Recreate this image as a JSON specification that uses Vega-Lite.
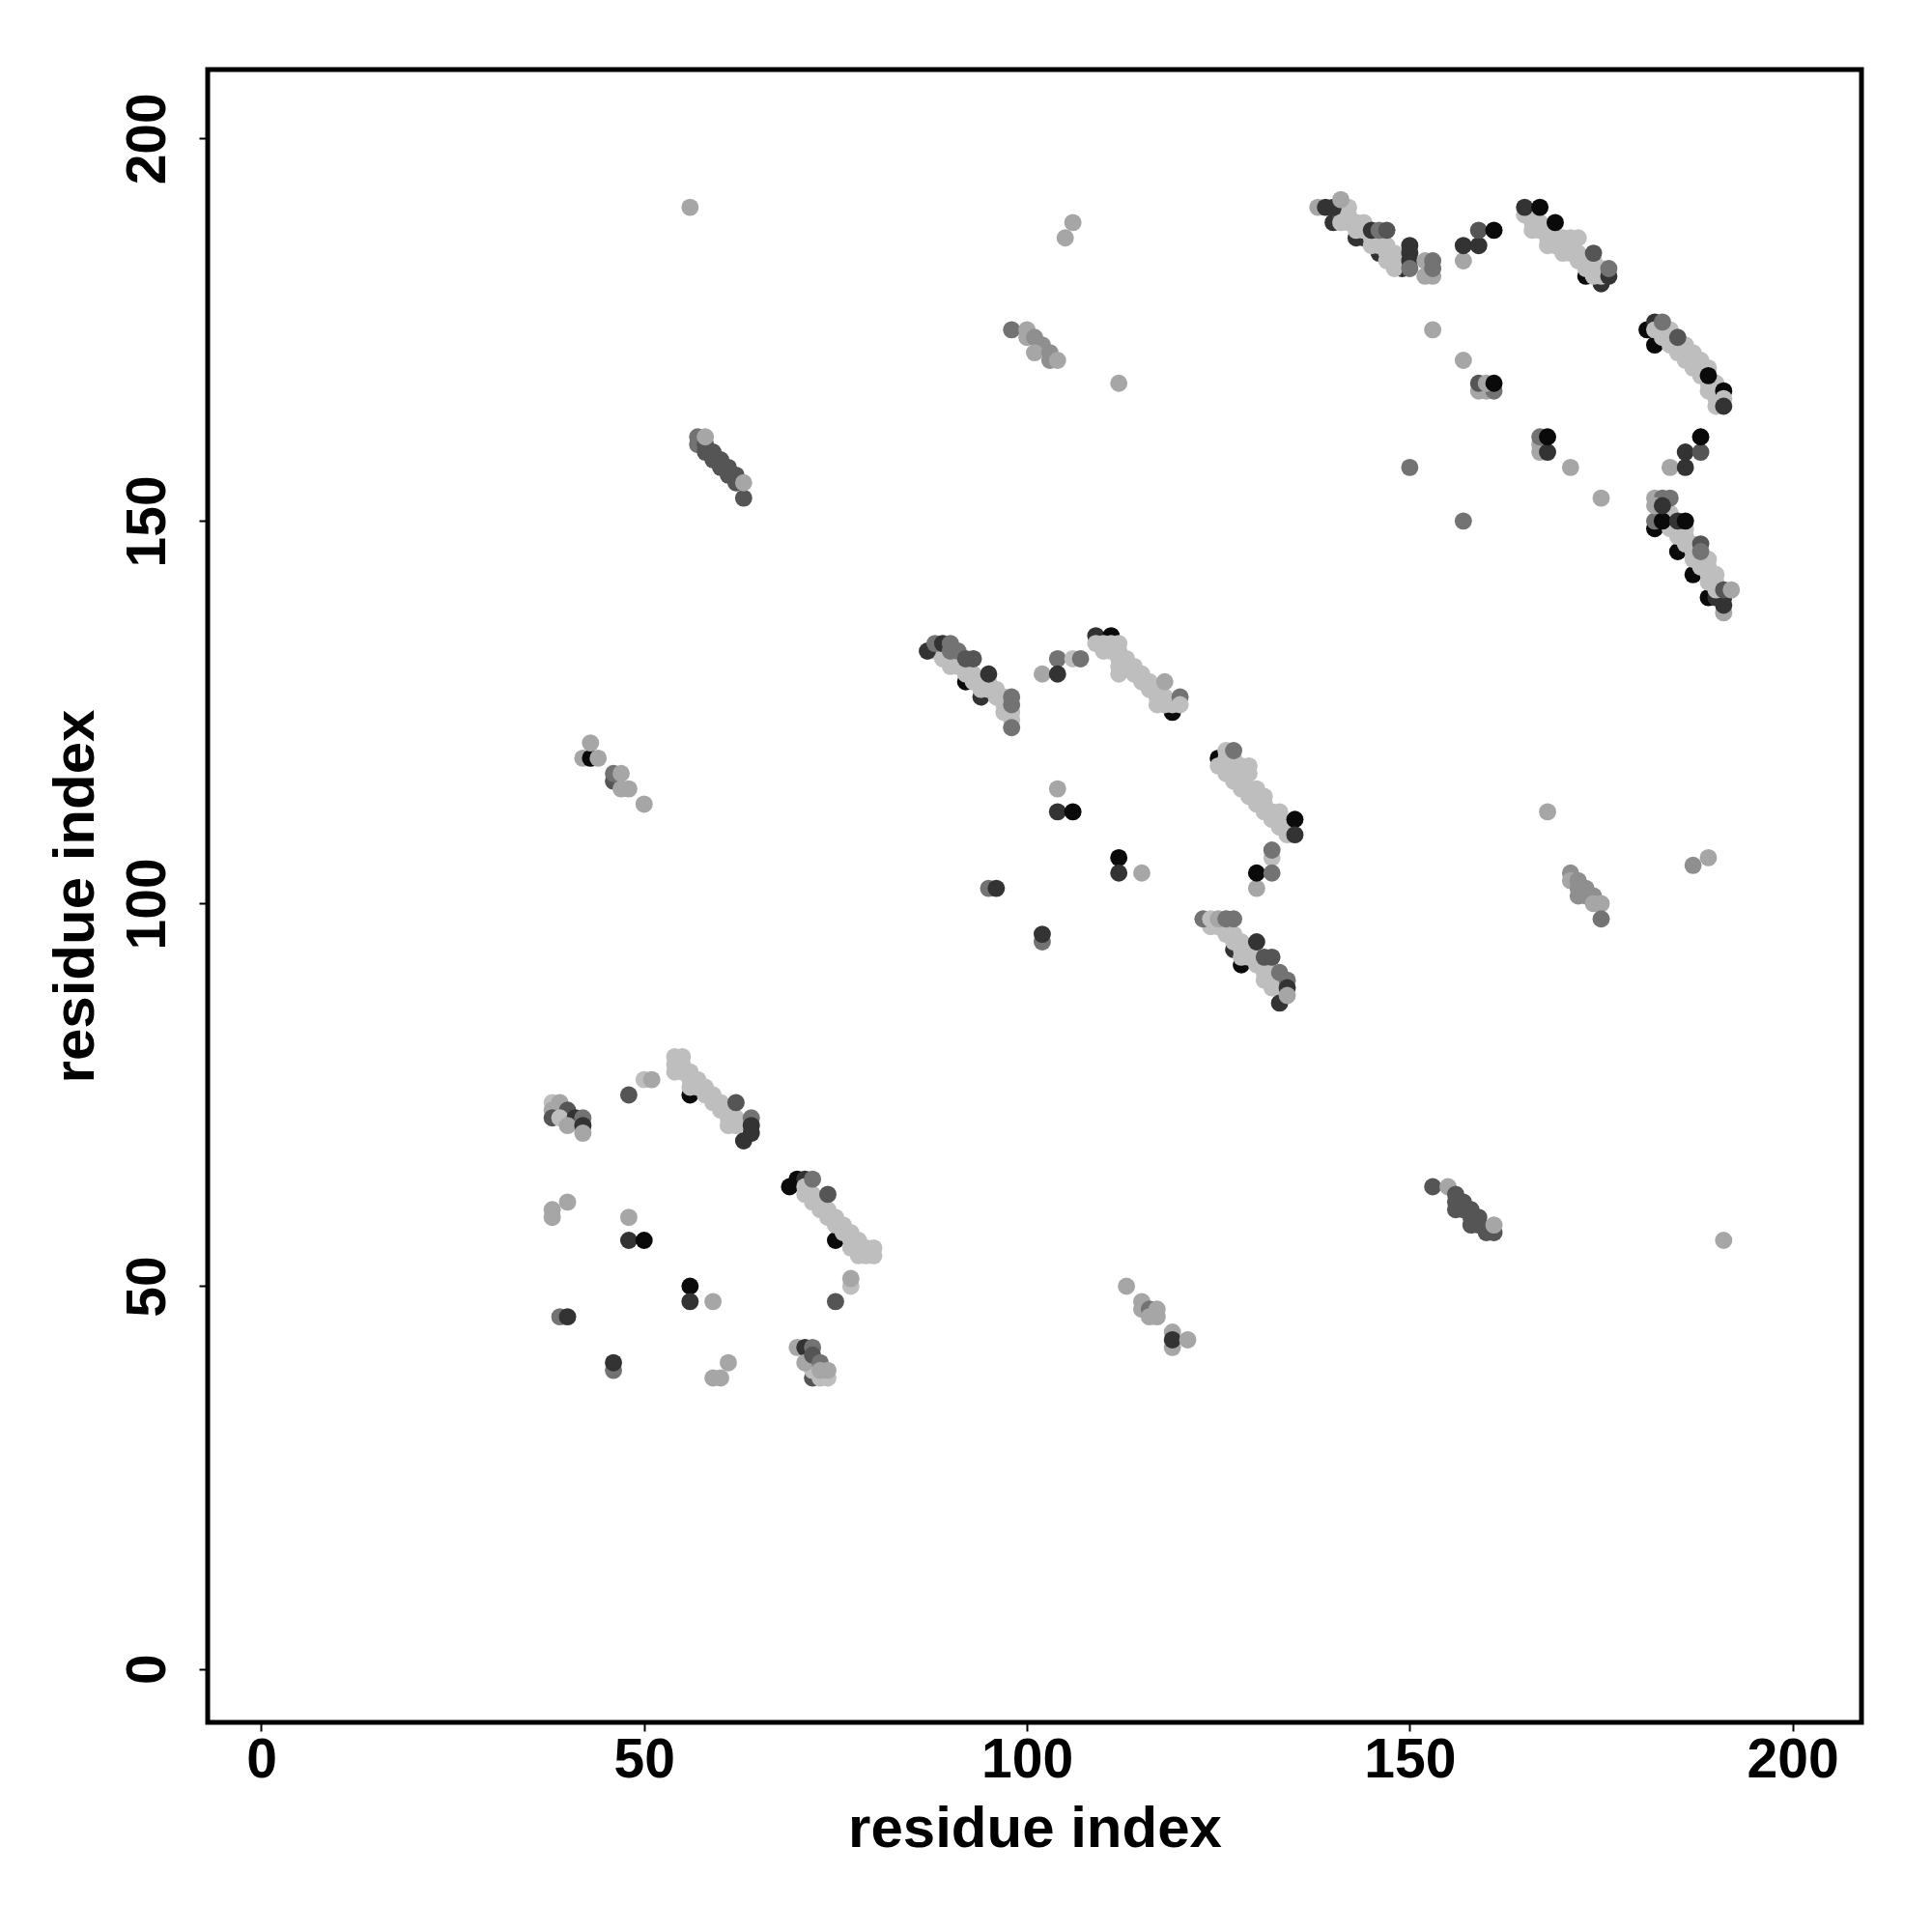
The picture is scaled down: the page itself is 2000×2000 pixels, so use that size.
{
"$schema": "https://vega.github.io/schema/vega-lite/v6.json",
"width": 1712, "height": 1711,
"autosize": {"type": "none"},
"padding": {"left": 215, "top": 72, "right": 73, "bottom": 217},
"background": "white",
"config": {
 "view": {"stroke": "black", "strokeWidth": 5},
 "axis": {"domain": false, "grid": false, "ticks": true, "tickColor": "black", "tickWidth": 2, "tickSize": 9,
  "labelFont": "Liberation Sans", "labelFontWeight": "bold", "labelFontSize": 57, "labelColor": "black",
  "titleFont": "Liberation Sans", "titleFontWeight": "bold", "titleFontSize": 60, "titleColor": "black"}
},
"data": {"values": [
{"x":38,"y":74,"s":7},{"x":39,"y":74,"s":6},{"x":38,"y":73,"s":6},{"x":38,"y":72,"s":3},{"x":40,"y":73,"s":3},{"x":39,"y":72,"s":7},{"x":41,"y":72,"s":2},{"x":40,"y":71,"s":6},{"x":42,"y":72,"s":4},{"x":42,"y":71,"s":2},{"x":42,"y":70,"s":6},
{"x":48,"y":75,"s":3},{"x":50,"y":77,"s":7},{"x":51,"y":77,"s":6},
{"x":56,"y":75,"s":1},
{"x":54,"y":80,"s":7},{"x":55,"y":80,"s":7},{"x":54,"y":79,"s":7},{"x":55,"y":79,"s":7},{"x":54,"y":78,"s":7},{"x":55,"y":78,"s":7},{"x":56,"y":78,"s":7},{"x":56,"y":77,"s":7},{"x":57,"y":77,"s":7},{"x":56,"y":76,"s":7},{"x":57,"y":76,"s":7},{"x":58,"y":76,"s":7},{"x":58,"y":75,"s":7},{"x":59,"y":75,"s":7},{"x":59,"y":74,"s":7},{"x":60,"y":74,"s":7},{"x":60,"y":73,"s":7},{"x":61,"y":73,"s":7},{"x":61,"y":72,"s":7},{"x":62,"y":72,"s":7},{"x":62,"y":71,"s":7},{"x":61,"y":71,"s":7},
{"x":62,"y":74,"s":3},{"x":64,"y":72,"s":4},{"x":64,"y":71,"s":2},{"x":64,"y":70,"s":2},{"x":63,"y":69,"s":2},
{"x":38,"y":60,"s":6},{"x":38,"y":59,"s":6},{"x":40,"y":61,"s":6},{"x":48,"y":59,"s":6},{"x":48,"y":56,"s":2},{"x":50,"y":56,"s":1},{"x":56,"y":50,"s":1},{"x":56,"y":48,"s":2},{"x":59,"y":48,"s":6},{"x":39,"y":46,"s":4},{"x":40,"y":46,"s":2},{"x":46,"y":39,"s":4},{"x":46,"y":40,"s":2},{"x":61,"y":40,"s":6},{"x":59,"y":38,"s":6},{"x":60,"y":38,"s":6},
{"x":72,"y":38,"s":3},{"x":72,"y":39,"s":7},{"x":73,"y":38,"s":7},{"x":74,"y":38,"s":7},{"x":70,"y":42,"s":6},{"x":71,"y":42,"s":2},{"x":72,"y":42,"s":4},{"x":71,"y":40,"s":6},{"x":72,"y":41,"s":3},{"x":73,"y":40,"s":4},{"x":73,"y":39,"s":6},{"x":74,"y":39,"s":6},
{"x":69,"y":63,"s":1},{"x":70,"y":64,"s":1},{"x":71,"y":64,"s":2},{"x":75,"y":56,"s":1},
{"x":71,"y":63,"s":7},{"x":71,"y":62,"s":7},{"x":72,"y":62,"s":7},{"x":72,"y":61,"s":7},{"x":73,"y":61,"s":7},{"x":73,"y":60,"s":7},{"x":74,"y":60,"s":7},{"x":74,"y":59,"s":7},{"x":75,"y":59,"s":7},{"x":75,"y":58,"s":7},{"x":76,"y":58,"s":7},{"x":76,"y":57,"s":7},{"x":77,"y":57,"s":7},{"x":77,"y":56,"s":7},{"x":78,"y":56,"s":7},{"x":78,"y":55,"s":7},{"x":79,"y":55,"s":7},{"x":79,"y":54,"s":7},{"x":80,"y":54,"s":7},{"x":80,"y":55,"s":7},{"x":78,"y":54,"s":7},{"x":77,"y":55,"s":7},
{"x":72,"y":64,"s":4},{"x":74,"y":62,"s":3},
{"x":77,"y":50,"s":7},{"x":77,"y":51,"s":6},{"x":75,"y":48,"s":3},
{"x":56,"y":191,"s":6},
{"x":57,"y":161,"s":4},{"x":57,"y":160,"s":4},{"x":58,"y":160,"s":3},{"x":58,"y":159,"s":3},{"x":59,"y":159,"s":3},{"x":59,"y":158,"s":3},{"x":60,"y":158,"s":3},{"x":60,"y":157,"s":3},{"x":61,"y":157,"s":3},{"x":61,"y":156,"s":3},{"x":62,"y":156,"s":3},{"x":62,"y":155,"s":3},{"x":58,"y":161,"s":6},{"x":63,"y":153,"s":3},{"x":63,"y":155,"s":6},
{"x":42,"y":119,"s":6},{"x":43,"y":119,"s":1},{"x":44,"y":119,"s":6},{"x":43,"y":121,"s":6},{"x":46,"y":116,"s":3},{"x":46,"y":117,"s":4},{"x":47,"y":117,"s":6},{"x":47,"y":115,"s":6},{"x":48,"y":115,"s":6},{"x":50,"y":113,"s":6},
{"x":92,"y":129,"s":1},{"x":94,"y":127,"s":2},
{"x":88,"y":133,"s":7},{"x":89,"y":133,"s":7},{"x":89,"y":132,"s":7},{"x":90,"y":132,"s":7},{"x":90,"y":131,"s":7},{"x":91,"y":131,"s":7},{"x":91,"y":132,"s":7},{"x":92,"y":131,"s":7},{"x":92,"y":130,"s":7},{"x":93,"y":130,"s":7},{"x":93,"y":129,"s":7},{"x":94,"y":129,"s":7},{"x":94,"y":128,"s":7},{"x":95,"y":129,"s":7},{"x":95,"y":128,"s":7},{"x":96,"y":128,"s":7},{"x":96,"y":127,"s":7},{"x":97,"y":127,"s":7},{"x":97,"y":126,"s":7},{"x":97,"y":125,"s":7},{"x":98,"y":125,"s":7},{"x":98,"y":124,"s":7},
{"x":87,"y":133,"s":2},{"x":88,"y":134,"s":4},{"x":89,"y":134,"s":2},{"x":90,"y":134,"s":4},{"x":90,"y":133,"s":4},{"x":91,"y":133,"s":4},{"x":92,"y":132,"s":3},{"x":93,"y":132,"s":3},{"x":95,"y":130,"s":2},{"x":98,"y":127,"s":4},{"x":98,"y":126,"s":4},{"x":98,"y":123,"s":4},
{"x":102,"y":130,"s":6},{"x":104,"y":132,"s":4},{"x":104,"y":130,"s":2},{"x":106,"y":132,"s":7},{"x":107,"y":132,"s":4},
{"x":109,"y":135,"s":2},{"x":111,"y":135,"s":1},{"x":119,"y":125,"s":1},{"x":109,"y":134,"s":7},
{"x":110,"y":134,"s":7},{"x":111,"y":134,"s":7},{"x":112,"y":134,"s":7},{"x":110,"y":133,"s":7},{"x":111,"y":133,"s":7},{"x":112,"y":133,"s":7},{"x":112,"y":132,"s":7},{"x":113,"y":132,"s":7},{"x":112,"y":131,"s":7},{"x":113,"y":131,"s":7},{"x":114,"y":131,"s":7},{"x":112,"y":130,"s":7},{"x":114,"y":130,"s":7},{"x":115,"y":130,"s":7},{"x":115,"y":129,"s":7},{"x":116,"y":129,"s":7},{"x":116,"y":128,"s":7},{"x":117,"y":128,"s":7},{"x":117,"y":127,"s":7},{"x":118,"y":127,"s":7},{"x":118,"y":126,"s":7},{"x":119,"y":126,"s":7},{"x":117,"y":126,"s":7},
{"x":118,"y":129,"s":6},{"x":120,"y":127,"s":4},{"x":120,"y":126,"s":7},
{"x":125,"y":119,"s":1},
{"x":126,"y":120,"s":7},{"x":125,"y":118,"s":7},{"x":126,"y":118,"s":7},{"x":126,"y":119,"s":7},{"x":127,"y":119,"s":7},{"x":127,"y":118,"s":7},{"x":126,"y":117,"s":7},{"x":127,"y":117,"s":7},{"x":127,"y":116,"s":7},{"x":128,"y":116,"s":7},{"x":128,"y":117,"s":7},{"x":128,"y":118,"s":7},{"x":129,"y":118,"s":7},{"x":129,"y":117,"s":7},{"x":128,"y":115,"s":7},{"x":129,"y":115,"s":7},{"x":129,"y":114,"s":7},{"x":130,"y":114,"s":7},{"x":130,"y":115,"s":7},{"x":130,"y":113,"s":7},{"x":131,"y":113,"s":7},{"x":131,"y":112,"s":7},{"x":131,"y":114,"s":7},{"x":132,"y":112,"s":7},{"x":132,"y":111,"s":7},{"x":133,"y":111,"s":7},{"x":133,"y":112,"s":7},{"x":133,"y":110,"s":7},{"x":134,"y":110,"s":7},{"x":134,"y":109,"s":7},
{"x":127,"y":120,"s":4},{"x":135,"y":111,"s":1},{"x":135,"y":109,"s":2},{"x":132,"y":106,"s":7},{"x":132,"y":107,"s":4},{"x":130,"y":102,"s":6},{"x":130,"y":104,"s":1},{"x":132,"y":104,"s":4},
{"x":104,"y":115,"s":6},{"x":104,"y":112,"s":2},{"x":106,"y":112,"s":1},{"x":112,"y":106,"s":1},{"x":112,"y":104,"s":2},{"x":115,"y":104,"s":6},{"x":95,"y":102,"s":4},{"x":96,"y":102,"s":2},{"x":102,"y":95,"s":4},{"x":102,"y":96,"s":2},
{"x":127,"y":94,"s":2},{"x":128,"y":92,"s":1},
{"x":124,"y":97,"s":7},{"x":125,"y":97,"s":7},{"x":126,"y":97,"s":7},{"x":126,"y":96,"s":7},{"x":127,"y":96,"s":7},{"x":127,"y":95,"s":7},{"x":128,"y":95,"s":7},{"x":128,"y":94,"s":7},{"x":129,"y":94,"s":7},{"x":129,"y":93,"s":7},{"x":130,"y":93,"s":7},{"x":130,"y":92,"s":7},{"x":131,"y":92,"s":7},{"x":131,"y":91,"s":7},{"x":132,"y":91,"s":7},{"x":132,"y":90,"s":7},{"x":133,"y":90,"s":7},{"x":133,"y":89,"s":7},{"x":131,"y":90,"s":7},{"x":132,"y":89,"s":7},{"x":128,"y":93,"s":7},
{"x":123,"y":98,"s":4},{"x":124,"y":98,"s":7},{"x":125,"y":98,"s":6},{"x":126,"y":98,"s":4},{"x":127,"y":98,"s":4},{"x":130,"y":95,"s":2},{"x":131,"y":93,"s":3},{"x":132,"y":93,"s":3},{"x":133,"y":91,"s":4},{"x":134,"y":90,"s":4},{"x":133,"y":87,"s":2},{"x":134,"y":89,"s":2},{"x":134,"y":88,"s":6},
{"x":113,"y":50,"s":6},{"x":115,"y":48,"s":6},{"x":115,"y":47,"s":6},{"x":116,"y":47,"s":4},{"x":117,"y":47,"s":6},{"x":116,"y":46,"s":6},{"x":117,"y":46,"s":6},{"x":119,"y":44,"s":6},{"x":119,"y":42,"s":6},{"x":119,"y":43,"s":2},{"x":121,"y":43,"s":6},
{"x":106,"y":189,"s":6},{"x":105,"y":187,"s":6},{"x":98,"y":175,"s":4},{"x":100,"y":175,"s":6},{"x":100,"y":174,"s":6},{"x":101,"y":174,"s":5},{"x":102,"y":173,"s":5},{"x":101,"y":172,"s":6},{"x":103,"y":172,"s":5},{"x":103,"y":171,"s":5},{"x":104,"y":171,"s":6},{"x":112,"y":168,"s":6},
{"x":140,"y":189,"s":2},{"x":141,"y":190,"s":3},{"x":143,"y":187,"s":2},{"x":144,"y":187,"s":2},{"x":146,"y":185,"s":2},{"x":149,"y":183,"s":2},
{"x":142,"y":190,"s":7},{"x":142,"y":189,"s":7},{"x":141,"y":189,"s":7},{"x":143,"y":189,"s":7},{"x":143,"y":188,"s":7},{"x":144,"y":188,"s":7},{"x":144,"y":189,"s":7},{"x":145,"y":187,"s":7},{"x":145,"y":186,"s":7},{"x":146,"y":187,"s":7},{"x":146,"y":186,"s":7},{"x":147,"y":186,"s":7},{"x":147,"y":185,"s":7},{"x":147,"y":184,"s":7},{"x":148,"y":185,"s":7},{"x":148,"y":184,"s":7},{"x":148,"y":183,"s":7},{"x":142,"y":191,"s":7},
{"x":138,"y":191,"s":6},{"x":139,"y":191,"s":2},{"x":140,"y":191,"s":2},{"x":141,"y":192,"s":6},{"x":145,"y":188,"s":2},{"x":146,"y":188,"s":4},{"x":147,"y":188,"s":3},{"x":150,"y":186,"s":2},{"x":150,"y":185,"s":2},{"x":150,"y":184,"s":2},{"x":150,"y":183,"s":4},{"x":152,"y":182,"s":6},{"x":153,"y":182,"s":6},{"x":152,"y":184,"s":6},{"x":153,"y":184,"s":4},{"x":153,"y":183,"s":4},
{"x":157,"y":184,"s":6},{"x":157,"y":186,"s":2},{"x":159,"y":186,"s":2},{"x":159,"y":188,"s":3},{"x":161,"y":188,"s":1},
{"x":153,"y":175,"s":6},{"x":157,"y":171,"s":6},{"x":159,"y":167,"s":6},{"x":160,"y":167,"s":6},{"x":161,"y":167,"s":4},{"x":159,"y":168,"s":3},{"x":160,"y":168,"s":6},{"x":161,"y":168,"s":1},
{"x":150,"y":157,"s":4},{"x":157,"y":150,"s":4},
{"x":173,"y":182,"s":1},{"x":175,"y":181,"s":2},
{"x":165,"y":190,"s":7},{"x":166,"y":190,"s":7},{"x":166,"y":189,"s":7},{"x":167,"y":189,"s":7},{"x":167,"y":188,"s":7},{"x":166,"y":188,"s":7},{"x":168,"y":188,"s":7},{"x":168,"y":187,"s":7},{"x":168,"y":186,"s":7},{"x":169,"y":187,"s":7},{"x":169,"y":186,"s":7},{"x":170,"y":186,"s":7},{"x":170,"y":185,"s":7},{"x":171,"y":186,"s":7},{"x":171,"y":185,"s":7},{"x":172,"y":185,"s":7},{"x":172,"y":184,"s":7},{"x":172,"y":187,"s":7},{"x":173,"y":184,"s":7},{"x":173,"y":183,"s":7},{"x":174,"y":183,"s":7},{"x":174,"y":184,"s":7},{"x":175,"y":183,"s":7},{"x":175,"y":182,"s":7},{"x":174,"y":182,"s":7},{"x":171,"y":187,"s":7},{"x":170,"y":187,"s":7},
{"x":165,"y":191,"s":2},{"x":167,"y":191,"s":1},{"x":169,"y":189,"s":1},{"x":174,"y":185,"s":3},{"x":176,"y":182,"s":2},{"x":176,"y":183,"s":4},
{"x":181,"y":175,"s":1},{"x":182,"y":176,"s":2},{"x":182,"y":173,"s":1},
{"x":182,"y":175,"s":7},{"x":183,"y":175,"s":7},{"x":183,"y":174,"s":7},{"x":184,"y":174,"s":7},{"x":184,"y":173,"s":7},{"x":185,"y":173,"s":7},{"x":185,"y":172,"s":7},{"x":186,"y":172,"s":7},{"x":186,"y":171,"s":7},{"x":187,"y":171,"s":7},{"x":187,"y":170,"s":7},{"x":188,"y":170,"s":7},{"x":188,"y":169,"s":7},{"x":189,"y":168,"s":7},{"x":189,"y":167,"s":7},{"x":190,"y":167,"s":7},{"x":190,"y":166,"s":7},{"x":190,"y":165,"s":7},{"x":188,"y":171,"s":7},{"x":186,"y":173,"s":7},{"x":184,"y":175,"s":7},{"x":189,"y":170,"s":7},{"x":190,"y":168,"s":7},
{"x":183,"y":176,"s":4},{"x":185,"y":174,"s":3},{"x":187,"y":172,"s":7},{"x":189,"y":169,"s":1},{"x":191,"y":167,"s":1},{"x":191,"y":166,"s":7},{"x":191,"y":165,"s":2},
{"x":167,"y":159,"s":6},{"x":167,"y":160,"s":6},{"x":167,"y":161,"s":4},{"x":168,"y":159,"s":2},{"x":168,"y":161,"s":1},{"x":171,"y":157,"s":6},{"x":175,"y":153,"s":6},
{"x":184,"y":157,"s":6},{"x":186,"y":157,"s":2},{"x":186,"y":159,"s":2},{"x":188,"y":159,"s":3},{"x":188,"y":161,"s":1},
{"x":182,"y":149,"s":1},{"x":185,"y":146,"s":1},{"x":187,"y":143,"s":1},{"x":189,"y":140,"s":1},{"x":190,"y":140,"s":2},{"x":191,"y":138,"s":6},{"x":191,"y":140,"s":2},{"x":191,"y":139,"s":2},
{"x":183,"y":151,"s":7},{"x":184,"y":151,"s":7},{"x":184,"y":150,"s":7},{"x":184,"y":149,"s":7},{"x":185,"y":149,"s":7},{"x":185,"y":148,"s":7},{"x":186,"y":148,"s":7},{"x":186,"y":147,"s":7},{"x":187,"y":147,"s":7},{"x":187,"y":146,"s":7},{"x":187,"y":145,"s":7},{"x":188,"y":145,"s":7},{"x":189,"y":145,"s":7},{"x":188,"y":144,"s":7},{"x":189,"y":144,"s":7},{"x":189,"y":143,"s":7},{"x":190,"y":143,"s":7},{"x":190,"y":142,"s":7},{"x":189,"y":142,"s":7},{"x":186,"y":149,"s":7},{"x":190,"y":141,"s":7},
{"x":182,"y":150,"s":4},{"x":183,"y":150,"s":1},{"x":185,"y":150,"s":2},{"x":186,"y":150,"s":1},{"x":182,"y":153,"s":6},{"x":183,"y":153,"s":4},{"x":184,"y":153,"s":4},{"x":182,"y":152,"s":6},{"x":183,"y":152,"s":2},{"x":188,"y":147,"s":3},{"x":188,"y":146,"s":4},{"x":191,"y":141,"s":3},{"x":192,"y":141,"s":6},
{"x":168,"y":112,"s":6},{"x":171,"y":104,"s":5},{"x":171,"y":103,"s":6},{"x":172,"y":103,"s":5},{"x":172,"y":102,"s":5},{"x":173,"y":102,"s":5},{"x":172,"y":101,"s":5},{"x":173,"y":101,"s":5},{"x":174,"y":101,"s":5},{"x":174,"y":100,"s":6},{"x":175,"y":100,"s":6},{"x":175,"y":98,"s":4},{"x":187,"y":105,"s":5},{"x":189,"y":106,"s":6},
{"x":153,"y":63,"s":3},{"x":155,"y":63,"s":6},{"x":156,"y":62,"s":3},{"x":156,"y":61,"s":3},{"x":156,"y":60,"s":3},{"x":157,"y":61,"s":3},{"x":157,"y":60,"s":3},{"x":158,"y":60,"s":3},{"x":158,"y":59,"s":3},{"x":159,"y":59,"s":3},{"x":158,"y":58,"s":3},{"x":159,"y":58,"s":3},{"x":160,"y":57,"s":3},{"x":161,"y":57,"s":3},{"x":161,"y":58,"s":6},{"x":191,"y":56,"s":6}
]},
"mark": {"type": "circle", "size": 320, "opacity": 1},
"encoding": {
 "x": {"field": "x", "type": "quantitative", "scale": {"domain": [-7, 209], "nice": false, "zero": false},
  "axis": {"values": [0, 50, 100, 150, 200], "title": "residue index", "labelPadding": 2, "titlePadding": 14, "labelFlush": false}},
 "y": {"field": "y", "type": "quantitative", "scale": {"domain": [-7, 209], "nice": false, "zero": false},
  "axis": {"values": [0, 50, 100, 150, 200], "title": "residue index", "labelAngle": -90, "labelAlign": "center", "labelBaseline": "alphabetic", "labelPadding": 36, "titlePadding": 28, "titleBaseline": "alphabetic", "labelFlush": false}},
 "color": {"field": "s", "type": "ordinal", "scale": {"domain": [1, 2, 3, 4, 5, 6, 7], "range": ["#0a0a0a", "#333333", "#555555", "#737373", "#8f8f8f", "#a6a6a6", "#bebebe"]}, "legend": null}
}
}
